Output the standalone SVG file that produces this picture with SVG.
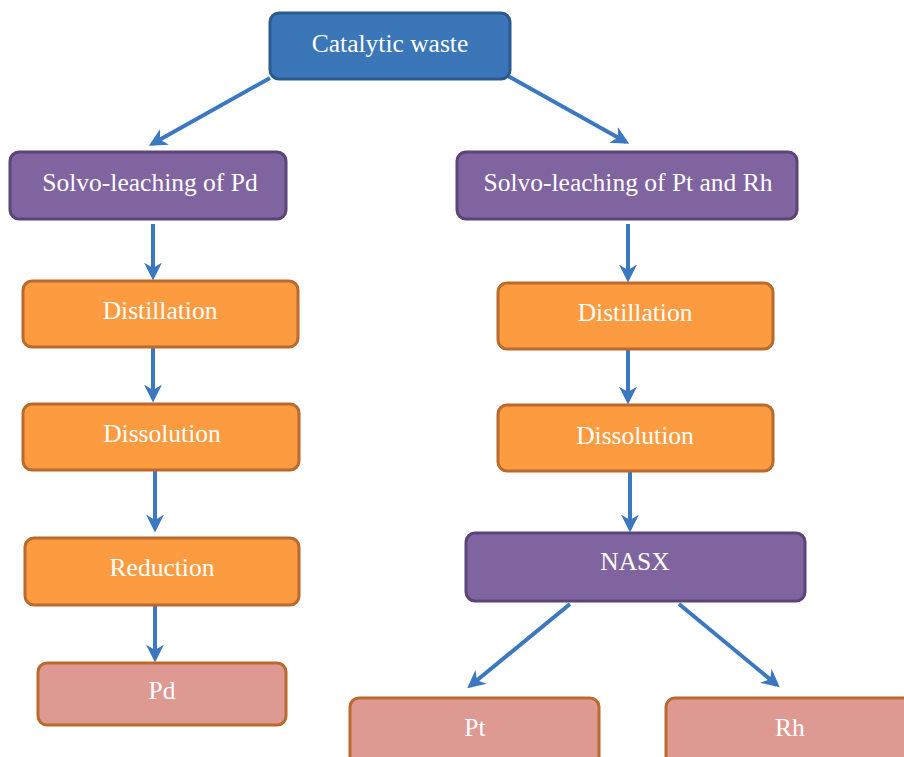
<svg xmlns="http://www.w3.org/2000/svg" width="904" height="757" viewBox="0 0 904 757">
<style>
.n{stroke-width:3}
.blue{fill:#3B76B8;stroke:#2B5A8E}
.purple{fill:#8064A0;stroke:#5B4478}
.orange{fill:#FD9B40;stroke:#B96A2C}
.pink{fill:#DF9993;stroke:#B96A2C}
text{font-family:"Liberation Serif","Times New Roman",serif;font-size:25.5px;fill:#FFFFFF;text-anchor:middle}
.c line{stroke:#3B78C0;stroke-width:4;marker-end:url(#ah)}
</style>
<defs>
<marker id="ah" viewBox="0 0 10 10" refX="8" refY="5" markerWidth="4.5" markerHeight="4.5" orient="auto" markerUnits="strokeWidth">
<path d="M0,0 L10,5 L0,10 L3,5 Z" fill="#3B78C0"/>
</marker>
</defs>
<rect width="904" height="757" fill="#FFFFFF"/>
<g class="c">
<line x1="270" y1="78" x2="152" y2="144"/>
<line x1="508" y1="76" x2="626" y2="142"/>
<line x1="153" y1="224" x2="153" y2="277"/>
<line x1="153" y1="347" x2="153" y2="399"/>
<line x1="155" y1="471" x2="155" y2="529"/>
<line x1="155" y1="605" x2="155" y2="659"/>
<line x1="628" y1="224" x2="628" y2="279"/>
<line x1="628" y1="349" x2="628" y2="401"/>
<line x1="630" y1="472" x2="630" y2="529"/>
<line x1="570" y1="604" x2="470" y2="686"/>
<line x1="679" y1="604" x2="777" y2="685"/>
</g>
<g id="catalytic"><rect class="n blue" x="270" y="13" width="240" height="66" rx="9"/><text x="390" y="52">Catalytic waste</text></g>
<g id="solvo-pd"><rect class="n purple" x="10" y="152" width="276" height="67" rx="9"/><text x="150" y="191">Solvo-leaching of Pd</text></g>
<g id="solvo-ptrh"><rect class="n purple" x="457" y="152" width="340" height="67" rx="9"/><text x="628" y="191">Solvo-leaching of Pt and Rh</text></g>
<g id="dist-l"><rect class="n orange" x="23" y="281" width="275" height="66" rx="9"/><text x="160" y="319">Distillation</text></g>
<g id="diss-l"><rect class="n orange" x="23" y="404" width="276" height="66" rx="9"/><text x="162" y="442">Dissolution</text></g>
<g id="reduction"><rect class="n orange" x="25" y="538" width="274" height="67" rx="9"/><text x="162" y="576">Reduction</text></g>
<g id="pd"><rect class="n pink" x="38" y="663" width="248" height="62" rx="9"/><text x="162" y="699">Pd</text></g>
<g id="dist-r"><rect class="n orange" x="498" y="283" width="275" height="66" rx="9"/><text x="635" y="321">Distillation</text></g>
<g id="diss-r"><rect class="n orange" x="498" y="405" width="275" height="66" rx="9"/><text x="635" y="444">Dissolution</text></g>
<g id="nasx"><rect class="n purple" x="466" y="533" width="339" height="68" rx="9"/><text x="635" y="570">NASX</text></g>
<g id="pt"><rect class="n pink" x="350" y="698" width="249" height="75" rx="9"/><text x="475" y="736">Pt</text></g>
<g id="rh"><rect class="n pink" x="666" y="698" width="260" height="75" rx="9"/><text x="790" y="736">Rh</text></g>
</svg>
